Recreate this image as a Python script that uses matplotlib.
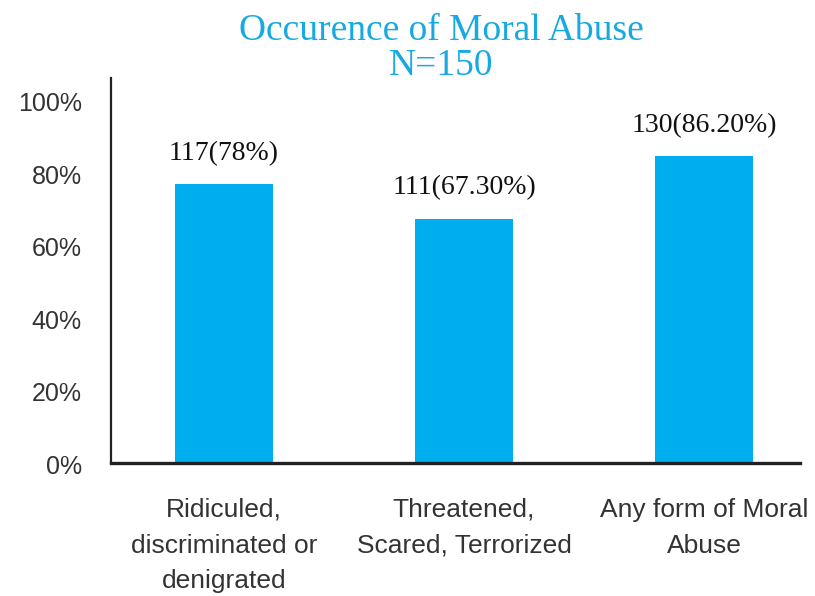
import matplotlib.pyplot as plt
import matplotlib.transforms as mtransforms

categories = ["Ridiculed,\ndiscriminated or\ndenigrated",
              "Threatened,\nScared, Terrorized",
              "Any form of Moral\nAbuse"]
percent = [76.9, 67.3, 84.6]
bar_labels = ["117(78%)", "111(67.30%)", "130(86.20%)"]
y_ticks = [0, 20, 40, 60, 80, 100]
y_tick_labels = ["0%", "20%", "40%", "60%", "80%", "100%"]

bar_color = "#00aeef"
title_color = "#17a9e1"

fig = plt.figure(figsize=(8.15, 5.96), dpi=100)
ax = fig.add_axes([0.136, 0.223, 0.846, 0.646])

x = list(range(len(categories)))
ax.bar(x, percent, width=0.41, color=bar_color, zorder=2)

for xi, val, lab in zip(x, percent, bar_labels):
    ax.annotate(lab, (xi, val), xytext=(0, 13), textcoords="offset points",
                ha="center", va="bottom", fontsize=20, family="Liberation Serif",
                color="#111111")

ax.set_xlim(-0.47, 2.4)
ax.set_ylim(0, 106)
ax.set_yticks(y_ticks)
ax.set_yticklabels(y_tick_labels, family="Liberation Sans", fontsize=18, color="#333333")
ax.set_xticks(x)
ax.set_xticklabels(categories, family="Liberation Sans", fontsize=19, color="#333333",
                   linespacing=1.62)
ax.tick_params(axis="y", length=0, pad=21)
ax.tick_params(axis="x", length=0, pad=25)

# labels in the original sit a few pixels below their gridline
shift = mtransforms.ScaledTranslation(0, -4 / 100, fig.dpi_scale_trans)
for lab in ax.get_yticklabels():
    lab.set_va("center")
    lab.set_transform(lab.get_transform() + shift)

ax.spines["top"].set_visible(False)
ax.spines["right"].set_visible(False)
ax.spines["left"].set_linewidth(1.6)
ax.spines["left"].set_color("#222222")
ax.spines["bottom"].set_linewidth(2.4)
ax.spines["bottom"].set_color("#222222")

fig.text(0.541, 0.948, "Occurence of Moral Abuse", ha="center", va="center",
         fontsize=27, family="Liberation Serif", color=title_color)
fig.text(0.541, 0.89, "N=150", ha="center", va="center",
         fontsize=27, family="Liberation Serif", color=title_color)

fig.savefig("out.png", dpi=100, facecolor="white")
